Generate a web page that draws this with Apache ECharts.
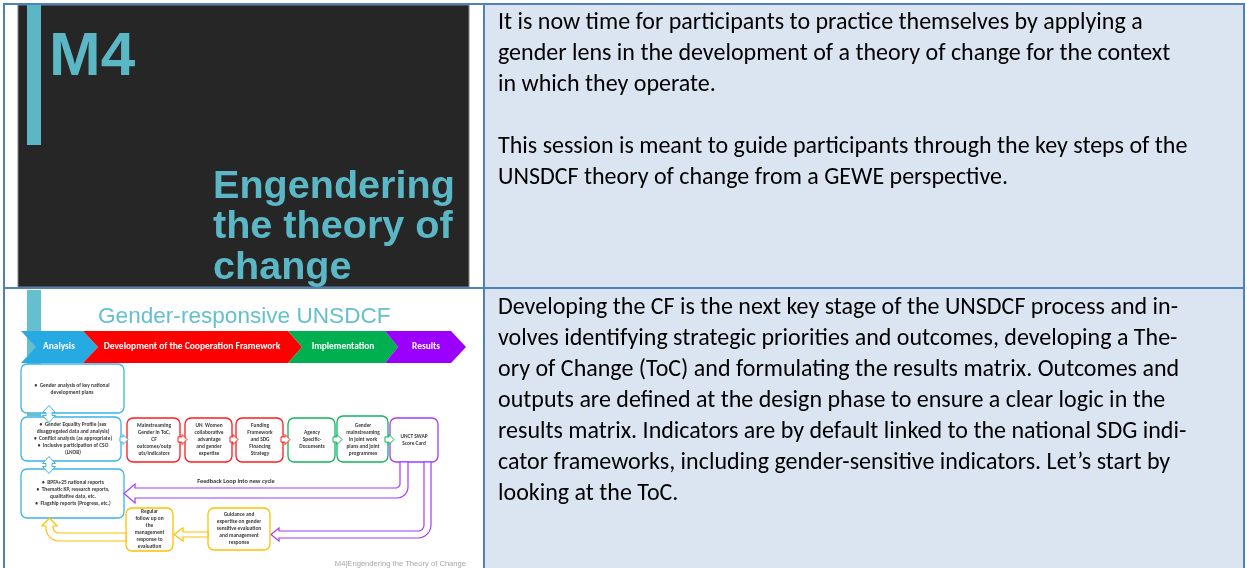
<!DOCTYPE html>
<html><head><meta charset="utf-8">
<script src="https://cdn.jsdelivr.net/npm/echarts@6/dist/echarts.min.js"></script>
<style>html,body{margin:0;padding:0;background:#fff}#c{width:1247px;height:568px}</style>
</head><body><div id="c"></div>
<script>
// ---------- content ----------
const headingText = 'Engendering the theory of change: key steps of the gender-responsive UNSDCF approach';
const slide1Code = 'M4';
const slide1Title = ['Engendering', 'the theory of', 'change'];
const slide2Title = 'Gender-responsive UNSDCF';
const phases = ['Analysis', 'Development of the Cooperation Framework', 'Implementation', 'Results'];
const analysisBoxes = [
  '•  Gender analysis of key national\ndevelopment plans',
  '•  Gender Equality Profile (sex\ndisaggregated data and analysis)\n•  Conflict analysis (as appropriate)\n•  Inclusive participation of CSO\n(LNOB)',
  '•  BPFA+25 national reports\n•  Thematic KP, research reports,\nqualitative data, etc.\n•  Flagship reports (Progress, etc.)'
];
const cfBoxes = [
  'Mainstreaming\nGender in ToC,\nCF\noutcomes/outp\nuts/indicators',
  'UN  Women\ncollaborative\nadvantage\nand gender\nexpertise',
  'Funding\nFramework\nand SDG\nFinancing\nStrategy'
];
const implBoxes = ['Agency\nSpecific-\nDocuments', 'Gender\nmainstreaming\nin joint work\nplans and joint\nprogrammes'];
const resultsBoxes = ['UNCT SWAP\nScore Card'];
const evalBoxes = [
  'Guidance and\nexpertise on gender\nsensitive evaluation\nand management\nresponse',
  'Regular\nfollow up on\nthe\nmanagement\nresponse to\nevaluation'
];
const feedbackLabel = 'Feedback Loop into new cycle';
const slideFooter = 'M4|Engendering the Theory of Change';
const introLines = [
  'It is now time for participants to practice themselves by applying a',
  'gender lens in the development of a theory of change for the context',
  'in which they operate.',
  '',
  'This session is meant to guide participants through the key steps of the',
  'UNSDCF theory of change from a GEWE perspective.'
];
const cfLines = [
  'Developing the CF is the next key stage of the UNSDCF process and in-',
  'volves identifying strategic priorities and outcomes, developing a The-',
  'ory of Change (ToC) and formulating the results matrix. Outcomes and',
  'outputs are defined at the design phase to ensure a clear logic in the',
  'results matrix. Indicators are by default linked to the national SDG indi-',
  'cator frameworks, including gender-sensitive indicators. Let\u2019s start by',
  'looking at the ToC.'
];

// ---------- helpers ----------
const BODY_FONT = "Carlito, Calibri, Lato, 'Noto Sans', sans-serif";
const ARIAL = "'Liberation Sans', Arial, sans-serif";
const mctx = document.createElement('canvas').getContext('2d');
function fit(str, family, weight, target) {
  mctx.font = weight + ' 20px ' + family;
  return 20 * target / mctx.measureText(str).width;
}
const els = [];
function rect(x, y, w, h, fill, stroke, lw, r) {
  els.push({type: 'rect', shape: {x, y, width: w, height: h, r: r || 0},
    style: {fill: fill, stroke: stroke || null, lineWidth: lw || 0}});
}
function line(x1, y1, x2, y2, color, lw) {
  els.push({type: 'line', shape: {x1, y1, x2, y2}, style: {stroke: color, lineWidth: lw}});
}
function poly(points, fill, stroke, lw) {
  els.push({type: 'polygon', shape: {points}, style: {fill, stroke, lineWidth: lw || 0}});
}
function text(x, y, str, font, fill, align, valign, lh) {
  const st = {text: str, font, fill, align, verticalAlign: valign, textAlign: align, textVerticalAlign: valign};
  if (lh) st.lineHeight = lh;
  els.push({type: 'text', x, y, style: st});
}
function arc(pts, cx, cy, rx, ry, a0, a1) {
  const n = 6;
  for (let i = 0; i <= n; i++) {
    const a = (a0 + (a1 - a0) * i / n) * Math.PI / 180;
    pts.push([cx + rx * Math.cos(a), cy + ry * Math.sin(a)]);
  }
}
function arrowRight(x1, x2, cy, color) {
  const hl = 5, hh = 5, sh = 2.6, xb = x2 - hl;
  poly([[x1, cy - sh], [xb, cy - sh], [xb, cy - hh], [x2, cy], [xb, cy + hh], [xb, cy + sh], [x1, cy + sh]], '#fff', color, 1);
}
function upDown(cx, cy, color) {
  const hw = 6.5, hl = 6, sw = 3, gap = 1.5;
  poly([[cx, cy - gap - hl - 1], [cx + hw, cy - gap], [cx + sw, cy - gap], [cx + sw, cy + gap], [cx + hw, cy + gap],
        [cx, cy + gap + hl + 1], [cx - hw, cy + gap], [cx - sw, cy + gap], [cx - sw, cy - gap], [cx - hw, cy - gap]], '#fff', color, 1);
}
function capText(x, capTop, str, weight, fs, fill) {
  text(x, capTop - 0.075 * fs, str, weight + ' ' + fs.toFixed(1) + 'px ' + ARIAL, fill, 'left', 'top');
}

// ---------- colours ----------
const BORDER = '#4f81bd', CELL = '#dbe5f1', TEAL = '#5bb7c5', TEAL2 = '#64c0cf';
const C_BLUE = '#27a9e1', C_RED = '#ff0000', C_GREEN = '#00b050', C_PURPLE = '#9b00ff';
const S_BLUE = '#3db3ea', S_RED = '#ff1a1a', S_GREEN = '#10b55a', S_PURPLE = '#a13bff', S_YELLOW = '#ffc000';

// ---------- page / table ----------
rect(485, 5, 759, 563, CELL);
text(12, 1.2, headingText, 'bold 21px ' + ARIAL, '#1f8fe0', 'left', 'bottom');

// top-left slide
rect(18, 5, 451, 282, '#262626', '#7f7f7f', 1);
rect(27, 5, 14, 140, TEAL);
capText(49, 32, slide1Code, 'bold', 62, TEAL);
const s1size = fit(slide1Title[1], ARIAL, 'bold', 240);
slide1Title.forEach((t, i) => capText(213, 170 + i * 40.5, t, 'bold', s1size, TEAL));

// bottom-left slide
rect(27, 290, 14, 126, TEAL2);
const t2size = fit(slide2Title, ARIAL, 'normal', 292);
capText(98, 306.5, slide2Title, 'normal', t2size, TEAL2);

// chevrons
const yT = 331, yM = 347, yB = 363;
poly([[21, yT], [83, yT], [98, yM], [83, yB], [21, yB], [36, yM]], C_BLUE);
poly([[83, yT], [288, yT], [302, yM], [288, yB], [83, yB], [98, yM]], C_RED);
poly([[288, yT], [385, yT], [398, yM], [385, yB], [288, yB], [302, yM]], C_GREEN);
poly([[385, yT], [451, yT], [466, yM], [451, yB], [385, yB], [398, yM]], C_PURPLE);
const phaseX = [59, 192, 343, 426];
const phaseW = [32, 176, 63, 28];
phases.forEach((p, i) => {
  const fs = Math.min(fit(p, BODY_FONT, 'bold', phaseW[i]), 10);
  text(phaseX[i], yM, p, 'bold ' + fs.toFixed(1) + 'px ' + BODY_FONT, '#fff', 'center', 'middle');
});

// boxes
const BOXFONT = 'bold 5.4px ' + BODY_FONT, BOXTXT = '#3a3a3a';
function box(x, y, w, h, color, str, cx, cy) {
  rect(x, y, w, h, '#fff', color, 1.3, 6);
  text(cx, cy, str, BOXFONT, BOXTXT, 'center', 'middle', 7);
}
const aRects = [[21, 364, 103, 49, 72, 389.5], [21, 417, 100, 44, 73, 439], [21, 469, 103, 49, 73, 493.5]];
analysisBoxes.forEach((s, i) => { const r = aRects[i]; box(r[0], r[1], r[2], r[3], S_BLUE, s, r[4], r[5]); });
rect(28, 413, 12, 3, TEAL2);
upDown(49, 414, S_BLUE);
upDown(49, 465, S_BLUE);

const cfRects = [[127, 418, 53, 44, 154], [185, 418, 47, 44, 209], [236, 418, 47, 44, 260]];
cfBoxes.forEach((s, i) => { const r = cfRects[i]; box(r[0], r[1], r[2], r[3], S_RED, s, r[4], 440); });
const imRects = [[288, 418, 47, 44, 312], [337, 416, 51, 46, 363]];
implBoxes.forEach((s, i) => { const r = imRects[i]; box(r[0], r[1], r[2], r[3], S_GREEN, s, r[4], 440); });
box(390, 418, 48, 44, S_PURPLE, resultsBoxes[0], 414, 440.5);

arrowRight(120, 128, 439.5, S_BLUE);
arrowRight(178, 187, 439.5, S_RED);
arrowRight(230, 238, 439.5, S_RED);
arrowRight(281, 290, 439.5, S_RED);
arrowRight(333, 342, 439.5, S_GREEN);
arrowRight(385, 394, 439.5, S_GREEN);

// feedback loop arrow (purple)
(function () {
  const p = [[400, 462], [400, 484]];
  arc(p, 395, 484, 5, 4, 0, 90);
  p.push([135, 488], [135, 484], [124, 493.5], [135, 503], [135, 498], [397, 498]);
  arc(p, 397, 487, 11, 11, 90, 0);
  p.push([408, 462]);
  poly(p, '#fff', S_PURPLE, 1.2);
})();
text(236, 481, feedbackLabel, 'bold 6.3px ' + BODY_FONT, '#333', 'center', 'middle');

// evaluation arrow (purple)
(function () {
  const p = [[424, 462], [424, 525]];
  arc(p, 418, 525, 6, 6, 0, 90);
  p.push([279, 531], [279, 528], [271, 534.5], [279, 541], [279, 538], [418, 538]);
  arc(p, 418, 525, 13, 13, 90, 0);
  p.push([431, 462]);
  poly(p, '#fff', S_PURPLE, 1.2);
})();

// yellow boxes
box(208, 508, 62, 42, S_YELLOW, evalBoxes[0], 239, 529);
box(126, 508, 47, 43, S_YELLOW, evalBoxes[1], 149.5, 529.5);

poly([[208, 532], [183, 532], [183, 528], [174, 534.5], [183, 541], [183, 537], [208, 537]], '#fff', S_YELLOW, 1.2);
(function () {
  const p = [[126, 533], [59, 533]];
  arc(p, 59, 527, 6, 6, 90, 180);
  p.push([53, 526], [57, 526], [49.5, 518], [42, 526], [46, 526], [46, 528]);
  arc(p, 59, 528, 13, 13, 180, 90);
  p.push([126, 541]);
  poly(p, '#fff', S_YELLOW, 1.2);
})();

text(466, 564, slideFooter, '7.6px ' + ARIAL, '#a6a6a6', 'right', 'middle');

// right column text
const bsize = fit(introLines[0], BODY_FONT, 'normal', 645);
text(498, 8, introLines.join('\n'), bsize.toFixed(2) + 'px ' + BODY_FONT, '#000', 'left', 'top', 31);
text(498, 292, cfLines.join('\n'), bsize.toFixed(2) + 'px ' + BODY_FONT, '#000', 'left', 'top', 31.1);

// table borders
line(3, 4, 1245, 4, BORDER, 2);
line(4, 4, 4, 568, BORDER, 2);
line(484, 4, 484, 568, BORDER, 2);
line(1244, 4, 1244, 568, BORDER, 2);
line(4, 288, 1244, 288, BORDER, 2);

const chart = echarts.init(document.getElementById('c'), null, {renderer: 'canvas'});
chart.setOption({animation: false, graphic: {elements: els}});
</script>
</body></html>
